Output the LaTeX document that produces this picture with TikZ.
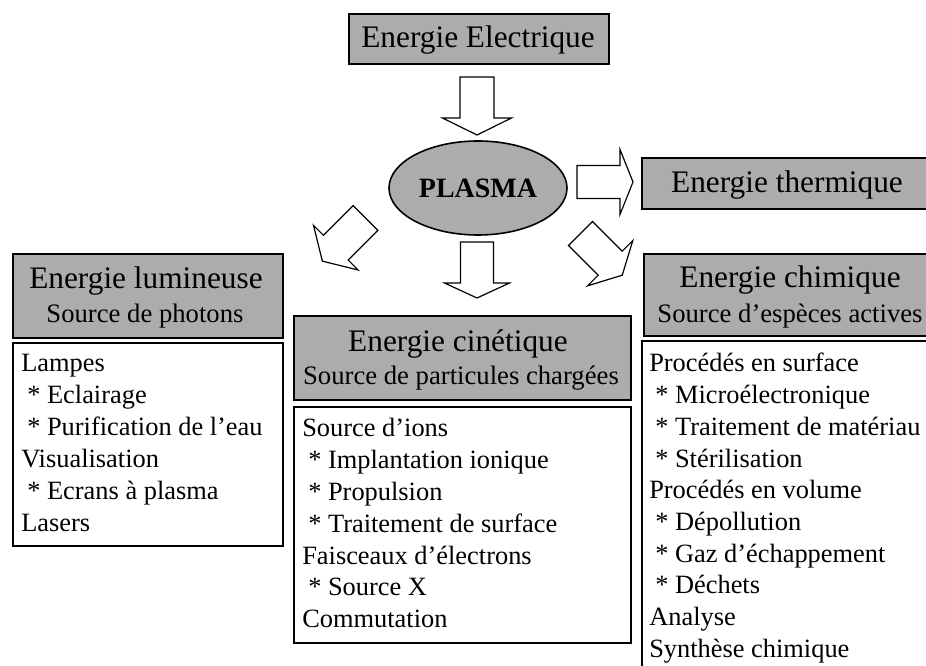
\documentclass[tikz,border=0pt]{standalone}
\usepackage{fontspec}
\setmainfont{Liberation Serif}
\usetikzlibrary{shapes.geometric}
\definecolor{boxgray}{RGB}{172,172,172}
\tikzset{
  hdr/.style={draw=black, line width=1.6pt, fill=boxgray, anchor=north west, inner sep=0pt},
  content/.style={draw=black, line width=1.3pt, fill=white, anchor=north west, inner sep=0pt},
  blk/.style={draw=black, line width=0.9pt, fill=white, line join=miter},
  ttl/.style={anchor=base, inner sep=0pt, font=\fontsize{23.5}{26}\selectfont},
  sub/.style={anchor=base, inner sep=0pt, font=\fontsize{20}{24}\selectfont},
  bodyline/.style={anchor=base west, inner sep=0pt, font=\fontsize{19.8}{24}\selectfont},
}
\newcommand{\BlkArrow}[7]{%
  \begin{scope}[shift={(#1)}, rotate=#2]
    \draw[blk] (0,-#5) -- (#3,-#5) -- (#3,-#6) -- (#7,0) -- (#3,#6) -- (#3,#5) -- (0,#5) -- cycle;
  \end{scope}}
\newcommand{\ind}{\hspace*{4.5pt}}
\begin{document}
\begin{tikzpicture}[x=0.75pt, y=-0.75pt]
\useasboundingbox (0,0) rectangle (926,666);
\clip (0,0) rectangle (926,666);
\fill[white] (0,0) rectangle (926,666);

% header boxes
\node[hdr, minimum width=195pt, minimum height=37.5pt] (elec) at (348,13) {};
\node[ttl] (elect) at (478,48) {Energie Electrique};

\node[ellipse, draw=black, line width=1.2pt, fill=boxgray, minimum width=133.5pt, minimum height=70.5pt, inner sep=0pt] (plasma) at (478,188) {};
\node[anchor=base, inner sep=0pt, font=\bfseries\fontsize{21}{24}\selectfont] (plasmat) at (478,198) {PLASMA};

\node[hdr, minimum width=224pt, minimum height=38.25pt] (therm) at (641,157) {};
\node[ttl] (thermt) at (787,193) {Energie thermique};

% lumineuse
\node[hdr, minimum width=202.5pt, minimum height=63pt] (lum) at (12,253) {};
\node[ttl] (lumt) at (146,289) {Energie lumineuse};
\node[sub] (lums) at (145,323) {Source de photons};
\node[content, minimum width=202.5pt, minimum height=152.25pt] (lumc) at (12,342) {};
\foreach \t [count=\i from 0] in {Lampes, \ind* Eclairage, \ind* Purification de l’eau, Visualisation, \ind* Ecrans à plasma, Lasers}
  \node[bodyline] (lum\i) at (21,372+32*\i) {\t};

% cinetique
\node[hdr, minimum width=252.75pt, minimum height=63pt] (cin) at (293,315) {};
\node[ttl] (cint) at (458,352) {Energie cinétique};
\node[sub] (cins) at (461,385) {Source de particules chargées};
\node[content, minimum width=252.75pt, minimum height=177pt] (cinc) at (293,406) {};
\foreach \t [count=\i from 0] in {Source d’ions, \ind* Implantation ionique, \ind* Propulsion, \ind* Traitement de surface, Faisceaux d’électrons, \ind* Source X, Commutation}
  \node[bodyline] (cin\i) at (302,437+31.8*\i) {\t};

% chimique
\node[hdr, minimum width=225pt, minimum height=61.5pt] (chi) at (643,253) {};
\node[ttl] (chit) at (790,288) {Energie chimique};
\node[sub] (chis) at (790,323) {Source d’espèces actives};
\node[content, minimum width=225pt, minimum height=255pt] (chic) at (641,340) {};
\foreach \t [count=\i from 0] in {Procédés en surface, \ind* Microélectronique, \ind* Traitement de matériau, \ind* Stérilisation, Procédés en volume, \ind* Dépollution, \ind* Gaz d’échappement, \ind* Déchets, Analyse, Synthèse chimique}
  \node[bodyline] (chi\i) at (649,372+31.7*\i) {\t};

% block arrows
\BlkArrow{477,77}{-90}{41}{0}{17}{34.5}{58}
\BlkArrow{577,182}{0}{43}{0}{16.5}{32.5}{56}
\BlkArrow{477,242}{-90}{41}{0}{16.5}{32.5}{56}
\BlkArrow{365.5,218}{-135}{42}{0}{17.5}{31.5}{61}
\BlkArrow{580.5,233.5}{-45}{42}{0}{17}{32}{59}
\end{tikzpicture}
\end{document}
